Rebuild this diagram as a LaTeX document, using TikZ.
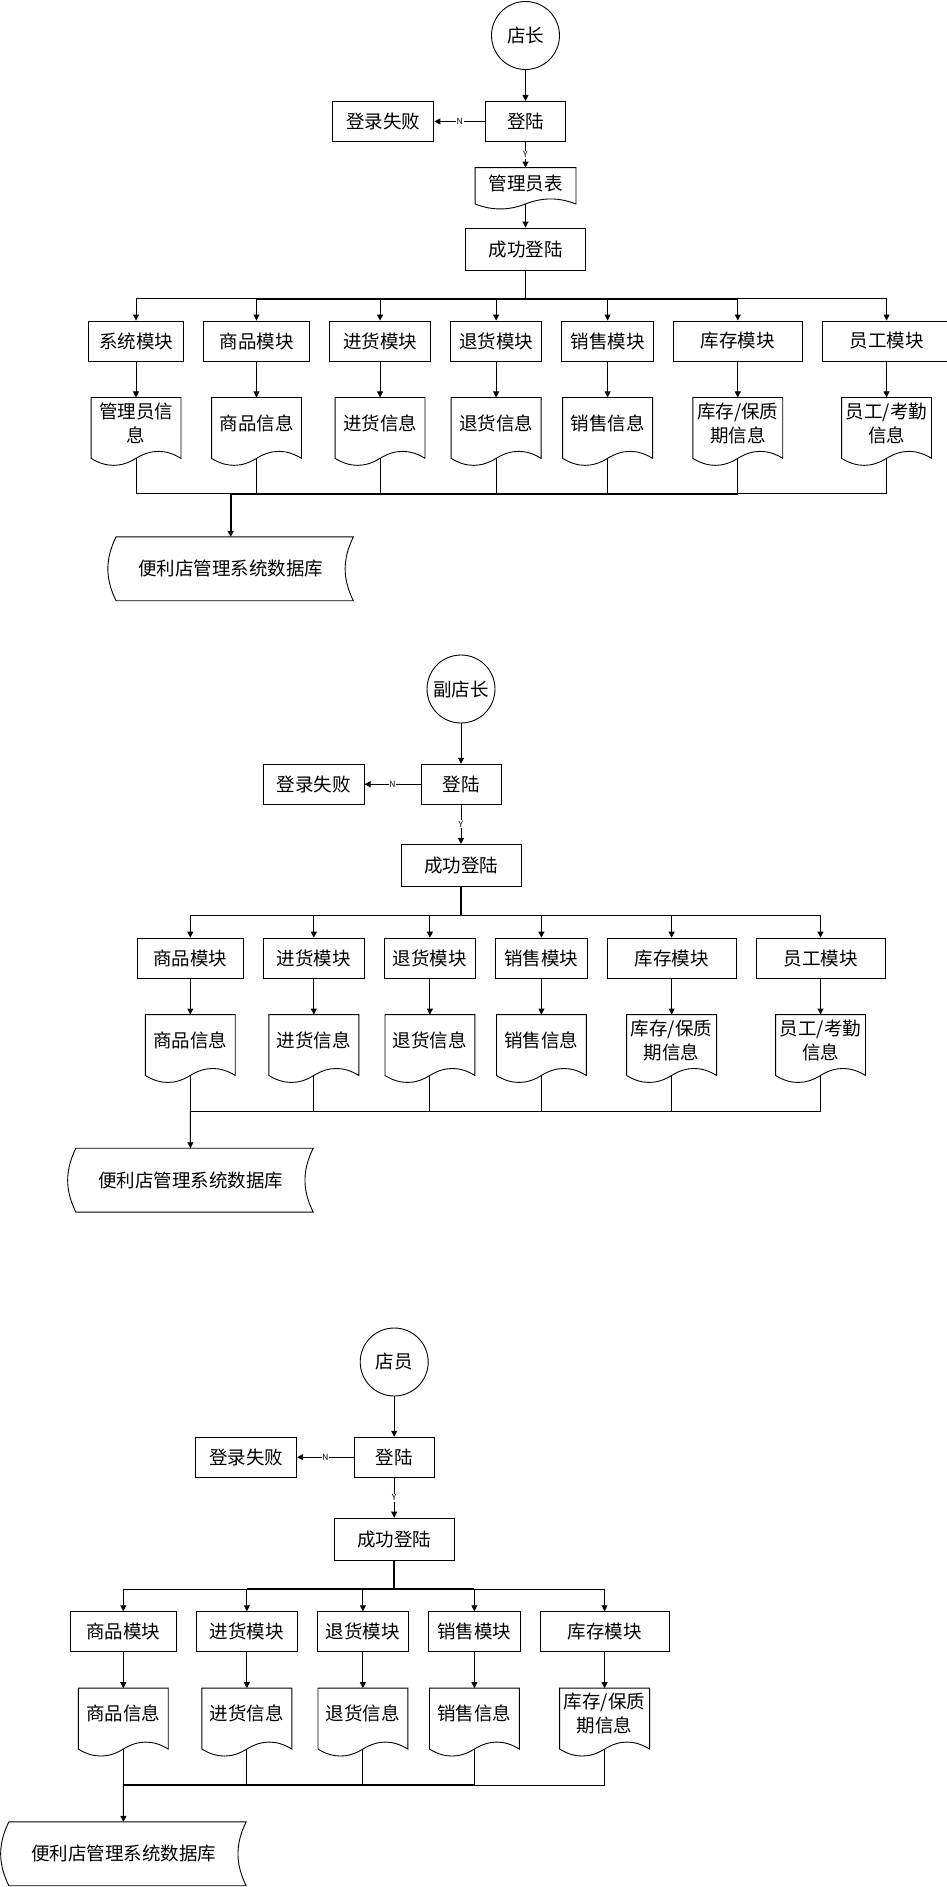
\documentclass[tikz,border=0pt]{standalone}
\usepackage{fontspec}
\setmainfont{Noto Sans CJK SC}
\usetikzlibrary{positioning,calc,arrows.meta}

\begin{document}
\begin{tikzpicture}[
    x=1pt, y=1pt, line width=0.9pt,
    every node/.style={font=\fontsize{18.5pt}{24pt}\selectfont},
    >={Triangle[length=6pt,width=6pt]},
    trunk/.style={line width=1.8pt},
    lbl/.style={font=\fontsize{8.5pt}{10pt}\selectfont, fill=white, inner sep=0.8pt},
    rolecircle/.style={draw, circle, minimum size=68pt, inner sep=0pt},
    stepbox/.style={draw, minimum height=40pt},
    docbox/.style={minimum width=89pt, minimum height=60pt, inner sep=2pt, align=center, text depth=11pt,
        append after command={\pgfextra{\draw (\tikzlastnode.north west) -- (\tikzlastnode.north east) -- (\tikzlastnode.south east)
            .. controls ($(\tikzlastnode.south east)!1/3!(\tikzlastnode.south)+(0,#1*4/3)$) and ($(\tikzlastnode.south east)!2/3!(\tikzlastnode.south)+(0,#1*4/3)$) .. (\tikzlastnode.south)
            .. controls ($(\tikzlastnode.south)!1/3!(\tikzlastnode.south west)+(0,-#1*4/3)$) and ($(\tikzlastnode.south)!2/3!(\tikzlastnode.south west)+(0,-#1*4/3)$) .. (\tikzlastnode.south west) -- cycle;}}},
    docbox/.default=7pt,
    dbbox/.style={minimum width=244.4pt, minimum height=63pt,
        append after command={\pgfextra{\draw ($(\tikzlastnode.north west)+(8pt,0)$) -- (\tikzlastnode.north east) to[bend right=26] (\tikzlastnode.south east)
            -- ($(\tikzlastnode.south west)+(8pt,0)$) to[bend left=26] ($(\tikzlastnode.north west)+(8pt,0)$) -- cycle;}}},
]
\useasboundingbox (0,0) rectangle (947,-1887);

% 店长
\node [rolecircle] (boss1) at (525.5,-35.5) {店长};
\node [stepbox, minimum width=80pt, below=31pt of boss1] (login1) {登陆};
\node [stepbox, minimum width=101pt, left=50.7pt of login1] (fail1) {登录失败};
\node [docbox=5pt, minimum width=100pt, minimum height=35.5pt, text depth=6pt, below=25.7pt of login1] (admin1) {管理员表};
\node [stepbox, minimum width=120pt, minimum height=42.5pt, below=23.6pt of admin1] (ok1) {成功登陆};
\node [stepbox, minimum width=94.6pt] (m1a) at (136,-341) {系统模块};
\node [stepbox, minimum width=106.6pt, right=19pt of m1a] (m1b) {商品模块};
\node [stepbox, minimum width=100.7pt, right=19pt of m1b] (m1c) {进货模块};
\node [stepbox, minimum width=91.6pt, right=19pt of m1c] (m1d) {退货模块};
\node [stepbox, minimum width=91.6pt, right=19pt of m1d] (m1e) {销售模块};
\node [stepbox, minimum width=129pt, right=19pt of m1e] (m1f) {库存模块};
\node [stepbox, minimum width=128.7pt, right=19pt of m1f] (m1g) {员工模块};
\node [docbox, below=36pt of m1a] (d1a) {管理员信\\息};
\node [docbox, below=36pt of m1b] (d1b) {商品信息};
\node [docbox, below=36pt of m1c] (d1c) {进货信息};
\node [docbox, below=36pt of m1d] (d1d) {退货信息};
\node [docbox, below=36pt of m1e] (d1e) {销售信息};
\node [docbox, below=36pt of m1f] (d1f) {库存/保质\\期信息};
\node [docbox, below=36pt of m1g] (d1g) {员工/考勤\\信息};
\node [dbbox] (db1) at (230.7,-568.8) {便利店管理系统数据库};
\coordinate (top1) at ($(ok1.south)+(0,-27.8pt)$);
\coordinate (bot1) at ($(db1.north |- d1a.south)+(0,-35.5pt)$);

\draw [->] (boss1) -- (login1);
\draw [->] (login1) -- node [lbl] {N} (fail1);
\draw [->] (login1) -- node [lbl] {Y} (admin1);
\draw [->] (admin1) -- (ok1);
\draw (ok1) -- (top1);
\foreach \m/\d in {m1a/d1a, m1b/d1b, m1c/d1c, m1d/d1d, m1e/d1e, m1f/d1f, m1g/d1g} {
    \draw [->] (top1) -| (\m.north);
    \draw [->] (\m) -- (\d);
    \draw (\d.south) |- (bot1);
}
\draw [trunk] (top1 -| m1b.north) -- (top1 -| m1f.north);
\draw [trunk] (bot1) -- (bot1 -| d1f.south);
\draw [trunk, ->] (bot1) -- (db1);

% 副店长
\node [rolecircle] (boss2) at (461,-689) {副店长};
\node [stepbox, minimum width=80pt, below=40.3pt of boss2] (login2) {登陆};
\node [stepbox, minimum width=101pt, left=56pt of login2] (fail2) {登录失败};
\node [stepbox, minimum width=120pt, minimum height=42.5pt, below=39.3pt of login2] (ok2) {成功登陆};
\node [stepbox, minimum width=106.6pt] (m2a) at (190.3,-958.1) {商品模块};
\node [stepbox, minimum width=100.7pt, right=19pt of m2a] (m2b) {进货模块};
\node [stepbox, minimum width=91.6pt, right=19pt of m2b] (m2c) {退货模块};
\node [stepbox, minimum width=91.6pt, right=19pt of m2c] (m2d) {销售模块};
\node [stepbox, minimum width=129pt, right=19pt of m2d] (m2e) {库存模块};
\node [stepbox, minimum width=129pt, right=19pt of m2e] (m2f) {员工模块};
\node [docbox, below=36pt of m2a] (d2a) {商品信息};
\node [docbox, below=36pt of m2b] (d2b) {进货信息};
\node [docbox, below=36pt of m2c] (d2c) {退货信息};
\node [docbox, below=36pt of m2d] (d2d) {销售信息};
\node [docbox, below=36pt of m2e] (d2e) {库存/保质\\期信息};
\node [docbox, below=36pt of m2f] (d2f) {员工/考勤\\信息};
\node [dbbox] (db2) at (190.5,-1180.2) {便利店管理系统数据库};
\coordinate (top2) at ($(ok2.south)+(0,-28.2pt)$);
\coordinate (bot2) at ($(d2a.south)+(0,-36pt)$);

\draw [->] (boss2) -- (login2);
\draw [->] (login2) -- node [lbl] {N} (fail2);
\draw [->] (login2) -- node [lbl] {Y} (ok2);
\draw [trunk] (ok2) -- (top2);
\foreach \m/\d in {m2a/d2a, m2b/d2b, m2c/d2c, m2d/d2d, m2e/d2e, m2f/d2f} {
    \draw [->] (top2) -| (\m.north);
    \draw [->] (\m) -- (\d);
    \draw (\d.south) |- (bot2);
}
\draw [trunk] (top2 -| m2a.north) -- (top2 -| m2e.north);
\draw [trunk] (bot2) -- (bot2 -| d2c.south);
\draw [->] (bot2) -- (db2);

% 店员
\node [rolecircle] (boss3) at (394.2,-1362) {店员};
\node [stepbox, minimum width=80pt, below=40.3pt of boss3] (login3) {登陆};
\node [stepbox, minimum width=101pt, left=56.6pt of login3] (fail3) {登录失败};
\node [stepbox, minimum width=120pt, minimum height=42.5pt, below=40pt of login3] (ok3) {成功登陆};
\node [stepbox, minimum width=106.6pt] (m3a) at (123.3,-1631.7) {商品模块};
\node [stepbox, minimum width=100.7pt, right=19pt of m3a] (m3b) {进货模块};
\node [stepbox, minimum width=91.6pt, right=19pt of m3b] (m3c) {退货模块};
\node [stepbox, minimum width=91.6pt, right=19pt of m3c] (m3d) {销售模块};
\node [stepbox, minimum width=129pt, right=19pt of m3d] (m3e) {库存模块};
\node [docbox, below=36pt of m3a] (d3a) {商品信息};
\node [docbox, below=36pt of m3b] (d3b) {进货信息};
\node [docbox, below=36pt of m3c] (d3c) {退货信息};
\node [docbox, below=36pt of m3d] (d3d) {销售信息};
\node [docbox, below=36pt of m3e] (d3e) {库存/保质\\期信息};
\node [dbbox] (db3) at (123.5,-1853.8) {便利店管理系统数据库};
\coordinate (top3) at ($(ok3.south)+(0,-27.9pt)$);
\coordinate (bot3) at ($(d3a.south)+(0,-36pt)$);

\draw [->] (boss3) -- (login3);
\draw [->] (login3) -- node [lbl] {N} (fail3);
\draw [->] (login3) -- node [lbl] {Y} (ok3);
\draw [trunk] (ok3) -- (top3);
\foreach \m/\d in {m3a/d3a, m3b/d3b, m3c/d3c, m3d/d3d, m3e/d3e} {
    \draw [->] (top3) -| (\m.north);
    \draw [->] (\m) -- (\d);
    \draw (\d.south) |- (bot3);
}
\draw [trunk] (top3 -| m3b.north) -- (top3 -| m3d.north);
\draw [trunk] (bot3) -- (bot3 -| d3d.south);
\draw [->] (bot3) -- (db3);
\end{tikzpicture}
\end{document}
